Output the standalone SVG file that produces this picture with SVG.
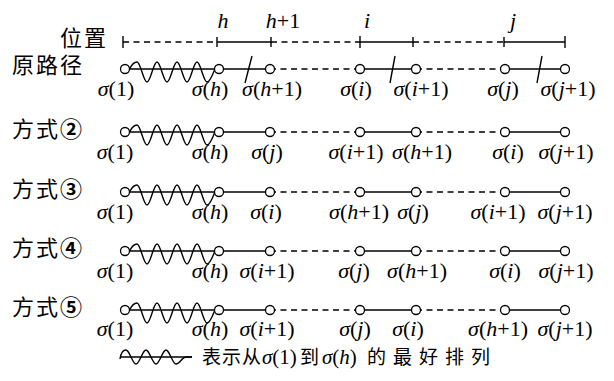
<svg xmlns="http://www.w3.org/2000/svg" xmlns:xlink="http://www.w3.org/1999/xlink" width="614" height="381" viewBox="0 0 614 381">
<style>
.ln{stroke:#000;stroke-width:1.4;fill:none}
.dash{stroke-dasharray:6 4.5}
.nd{fill:#fff;stroke:#000;stroke-width:1.3}
.lb{font-family:"Liberation Serif","Times New Roman",serif;font-size:22px;text-anchor:middle;fill:#000}
.it{font-style:italic}
.cjk{font-family:"Noto Sans CJK SC",sans-serif;font-size:22px;letter-spacing:2px;fill:#000}
.num{font-weight:bold}
.leg{font-family:"Noto Sans CJK SC",sans-serif;font-size:19px;fill:#000}
.legs{font-family:"Liberation Serif","Times New Roman",serif;font-size:21px;fill:#000}
</style>
<defs>
<g id="wave">
<line class="ln" x1="4.5" y1="0" x2="89.5" y2="0"/>
<path class="ln" d="M4.5,0 C7,-5 9,-7 12,-7 C15.6,-7 18.4,13 22,13 C25.6,13 28.4,-7 32,-7 C35.6,-7 38.4,13 42,13 C45.6,13 48.4,-7 52,-7 C55.6,-7 58.4,13 62,13 C65.6,13 68.4,-7 72,-7 C75.6,-7 78.4,13 82,13 C85,13 87.5,6 89.5,1"/>
</g>
</defs>
<rect width="614" height="381" fill="#fff"/>

<g id="axis">
<text class="cjk" x="60" y="46">位置</text>
<line class="ln dash" x1="123" y1="42" x2="217" y2="42"/>
<line class="ln" x1="217" y1="42" x2="271" y2="42"/>
<line class="ln dash" x1="271" y1="42" x2="360" y2="42"/>
<line class="ln" x1="360" y1="42" x2="413" y2="42"/>
<line class="ln dash" x1="413" y1="42" x2="504" y2="42"/>
<line class="ln" x1="504" y1="42" x2="565" y2="42"/>
<path class="ln" d="M123,36V48M217,37V47M271,37V47M360,36V48M413,37V47M504,37V47M565,36V48"/>
<text class="lb it" x="223" y="28">h</text>
<text class="lb" x="283" y="28"><tspan class="it">h</tspan>+1</text>
<text class="lb it" x="367" y="28">i</text>
<text class="lb it" x="513" y="28">j</text>
</g>

<g id="connectors">
<use xlink:href="#wave" x="125" y="69"/>
<line class="ln" x1="219" y1="69" x2="270" y2="69"/>
<line class="ln dash" x1="270" y1="69" x2="360" y2="69"/>
<line class="ln" x1="360" y1="69" x2="416" y2="69"/>
<line class="ln dash" x1="416" y1="69" x2="505" y2="69"/>
<line class="ln" x1="505" y1="69" x2="565" y2="69"/>
<path class="ln" d="M252,56L245,83M395,56L390,83M542,56L537,83"/>

<use xlink:href="#wave" x="125" y="132"/>
<line class="ln" x1="219" y1="132" x2="270" y2="132"/>
<line class="ln dash" x1="270" y1="132" x2="360" y2="132"/>
<line class="ln" x1="360" y1="132" x2="416" y2="132"/>
<line class="ln dash" x1="416" y1="132" x2="505" y2="132"/>
<line class="ln" x1="505" y1="132" x2="565" y2="132"/>

<use xlink:href="#wave" x="125" y="192"/>
<line class="ln" x1="219" y1="192" x2="270" y2="192"/>
<line class="ln dash" x1="270" y1="192" x2="360" y2="192"/>
<line class="ln" x1="360" y1="192" x2="416" y2="192"/>
<line class="ln dash" x1="416" y1="192" x2="505" y2="192"/>
<line class="ln" x1="505" y1="192" x2="565" y2="192"/>

<use xlink:href="#wave" x="125" y="251"/>
<line class="ln" x1="219" y1="251" x2="270" y2="251"/>
<line class="ln dash" x1="270" y1="251" x2="360" y2="251"/>
<line class="ln" x1="360" y1="251" x2="416" y2="251"/>
<line class="ln dash" x1="416" y1="251" x2="505" y2="251"/>
<line class="ln" x1="505" y1="251" x2="565" y2="251"/>

<use xlink:href="#wave" x="125" y="310"/>
<line class="ln" x1="219" y1="310" x2="270" y2="310"/>
<line class="ln dash" x1="270" y1="310" x2="360" y2="310"/>
<line class="ln" x1="360" y1="310" x2="416" y2="310"/>
<line class="ln dash" x1="416" y1="310" x2="505" y2="310"/>
<line class="ln" x1="505" y1="310" x2="565" y2="310"/>
</g>

<g id="row1">
<text class="cjk" x="12" y="73">原路径</text>
<g id="r1n1"><circle class="nd" cx="125" cy="69" r="4.5"/><text class="lb" x="116" y="96"><tspan class="it">σ</tspan>(1)</text></g>
<g id="r1n2"><circle class="nd" cx="219" cy="69" r="4.5"/><text class="lb" x="210" y="96"><tspan class="it">σ</tspan>(<tspan class="it">h</tspan>)</text></g>
<g id="r1n3"><circle class="nd" cx="270" cy="69" r="4.5"/><text class="lb" x="272" y="96"><tspan class="it">σ</tspan>(<tspan class="it">h</tspan>+1)</text></g>
<g id="r1n4"><circle class="nd" cx="360" cy="69" r="4.5"/><text class="lb" x="356" y="96"><tspan class="it">σ</tspan>(<tspan class="it">i</tspan>)</text></g>
<g id="r1n5"><circle class="nd" cx="416" cy="69" r="4.5"/><text class="lb" x="421" y="96"><tspan class="it">σ</tspan>(<tspan class="it">i</tspan>+1)</text></g>
<g id="r1n6"><circle class="nd" cx="505" cy="69" r="4.5"/><text class="lb" x="503" y="96"><tspan class="it">σ</tspan>(<tspan class="it">j</tspan>)</text></g>
<g id="r1n7"><circle class="nd" cx="565" cy="69" r="4.5"/><text class="lb" x="568" y="96"><tspan class="it">σ</tspan>(<tspan class="it">j</tspan>+1)</text></g>
</g>

<g id="row2">
<text class="cjk" x="12" y="137">方式<tspan class="num">②</tspan></text>
<g id="r2n1"><circle class="nd" cx="125" cy="132" r="4.5"/><text class="lb" x="115" y="159"><tspan class="it">σ</tspan>(1)</text></g>
<g id="r2n2"><circle class="nd" cx="219" cy="132" r="4.5"/><text class="lb" x="210" y="159"><tspan class="it">σ</tspan>(<tspan class="it">h</tspan>)</text></g>
<g id="r2n3"><circle class="nd" cx="270" cy="132" r="4.5"/><text class="lb" x="267" y="159"><tspan class="it">σ</tspan>(<tspan class="it">j</tspan>)</text></g>
<g id="r2n4"><circle class="nd" cx="360" cy="132" r="4.5"/><text class="lb" x="356" y="159"><tspan class="it">σ</tspan>(<tspan class="it">i</tspan>+1)</text></g>
<g id="r2n5"><circle class="nd" cx="416" cy="132" r="4.5"/><text class="lb" x="422" y="159"><tspan class="it">σ</tspan>(<tspan class="it">h</tspan>+1)</text></g>
<g id="r2n6"><circle class="nd" cx="505" cy="132" r="4.5"/><text class="lb" x="508" y="159"><tspan class="it">σ</tspan>(<tspan class="it">i</tspan>)</text></g>
<g id="r2n7"><circle class="nd" cx="565" cy="132" r="4.5"/><text class="lb" x="566" y="159"><tspan class="it">σ</tspan>(<tspan class="it">j</tspan>+1)</text></g>
</g>

<g id="row3">
<text class="cjk" x="12" y="197">方式<tspan class="num">③</tspan></text>
<g id="r3n1"><circle class="nd" cx="125" cy="192" r="4.5"/><text class="lb" x="115" y="219"><tspan class="it">σ</tspan>(1)</text></g>
<g id="r3n2"><circle class="nd" cx="219" cy="192" r="4.5"/><text class="lb" x="210" y="219"><tspan class="it">σ</tspan>(<tspan class="it">h</tspan>)</text></g>
<g id="r3n3"><circle class="nd" cx="270" cy="192" r="4.5"/><text class="lb" x="266" y="219"><tspan class="it">σ</tspan>(<tspan class="it">i</tspan>)</text></g>
<g id="r3n4"><circle class="nd" cx="360" cy="192" r="4.5"/><text class="lb" x="359" y="219"><tspan class="it">σ</tspan>(<tspan class="it">h</tspan>+1)</text></g>
<g id="r3n5"><circle class="nd" cx="416" cy="192" r="4.5"/><text class="lb" x="413" y="219"><tspan class="it">σ</tspan>(<tspan class="it">j</tspan>)</text></g>
<g id="r3n6"><circle class="nd" cx="505" cy="192" r="4.5"/><text class="lb" x="498" y="219"><tspan class="it">σ</tspan>(<tspan class="it">i</tspan>+1)</text></g>
<g id="r3n7"><circle class="nd" cx="565" cy="192" r="4.5"/><text class="lb" x="565" y="219"><tspan class="it">σ</tspan>(<tspan class="it">j</tspan>+1)</text></g>
</g>

<g id="row4">
<text class="cjk" x="12" y="256">方式<tspan class="num">④</tspan></text>
<g id="r4n1"><circle class="nd" cx="125" cy="251" r="4.5"/><text class="lb" x="115" y="278"><tspan class="it">σ</tspan>(1)</text></g>
<g id="r4n2"><circle class="nd" cx="219" cy="251" r="4.5"/><text class="lb" x="210" y="278"><tspan class="it">σ</tspan>(<tspan class="it">h</tspan>)</text></g>
<g id="r4n3"><circle class="nd" cx="270" cy="251" r="4.5"/><text class="lb" x="267" y="278"><tspan class="it">σ</tspan>(<tspan class="it">i</tspan>+1)</text></g>
<g id="r4n4"><circle class="nd" cx="360" cy="251" r="4.5"/><text class="lb" x="354" y="278"><tspan class="it">σ</tspan>(<tspan class="it">j</tspan>)</text></g>
<g id="r4n5"><circle class="nd" cx="416" cy="251" r="4.5"/><text class="lb" x="417" y="278"><tspan class="it">σ</tspan>(<tspan class="it">h</tspan>+1)</text></g>
<g id="r4n6"><circle class="nd" cx="505" cy="251" r="4.5"/><text class="lb" x="505" y="278"><tspan class="it">σ</tspan>(<tspan class="it">i</tspan>)</text></g>
<g id="r4n7"><circle class="nd" cx="565" cy="251" r="4.5"/><text class="lb" x="566" y="278"><tspan class="it">σ</tspan>(<tspan class="it">j</tspan>+1)</text></g>
</g>

<g id="row5">
<text class="cjk" x="12" y="315">方式<tspan class="num">⑤</tspan></text>
<g id="r5n1"><circle class="nd" cx="125" cy="310" r="4.5"/><text class="lb" x="115" y="336"><tspan class="it">σ</tspan>(1)</text></g>
<g id="r5n2"><circle class="nd" cx="219" cy="310" r="4.5"/><text class="lb" x="210" y="336"><tspan class="it">σ</tspan>(<tspan class="it">h</tspan>)</text></g>
<g id="r5n3"><circle class="nd" cx="270" cy="310" r="4.5"/><text class="lb" x="267" y="336"><tspan class="it">σ</tspan>(<tspan class="it">i</tspan>+1)</text></g>
<g id="r5n4"><circle class="nd" cx="360" cy="310" r="4.5"/><text class="lb" x="355" y="336"><tspan class="it">σ</tspan>(<tspan class="it">j</tspan>)</text></g>
<g id="r5n5"><circle class="nd" cx="416" cy="310" r="4.5"/><text class="lb" x="408" y="336"><tspan class="it">σ</tspan>(<tspan class="it">i</tspan>)</text></g>
<g id="r5n6"><circle class="nd" cx="505" cy="310" r="4.5"/><text class="lb" x="498" y="336"><tspan class="it">σ</tspan>(<tspan class="it">h</tspan>+1)</text></g>
<g id="r5n7"><circle class="nd" cx="565" cy="310" r="4.5"/><text class="lb" x="565" y="336"><tspan class="it">σ</tspan>(<tspan class="it">j</tspan>+1)</text></g>
</g>

<g id="legend">
<line class="ln" x1="120" y1="357" x2="192" y2="357"/>
<path class="ln" d="M120,359 C121,352 123,350 126,350 C129.6,350 132.4,364 136,364 C139.6,364 142.4,350 146,350 C149.6,350 152.4,364 156,364 C159.6,364 162.4,350 166,350 C169.6,350 172.4,364 176,364 C179.6,364 182.4,357 186,357 L192,357"/>
<text class="leg" x="202 222 242" y="364">表示从</text>
<text class="legs" x="262" y="364"><tspan class="it">σ</tspan>(1)</text>
<text class="leg" x="300" y="364">到</text>
<text class="legs" x="322" y="364"><tspan class="it">σ</tspan>(<tspan class="it">h</tspan>)</text>
<text class="leg" x="367 393 419 445 471" y="364">的最好排列</text>
</g>
</svg>
